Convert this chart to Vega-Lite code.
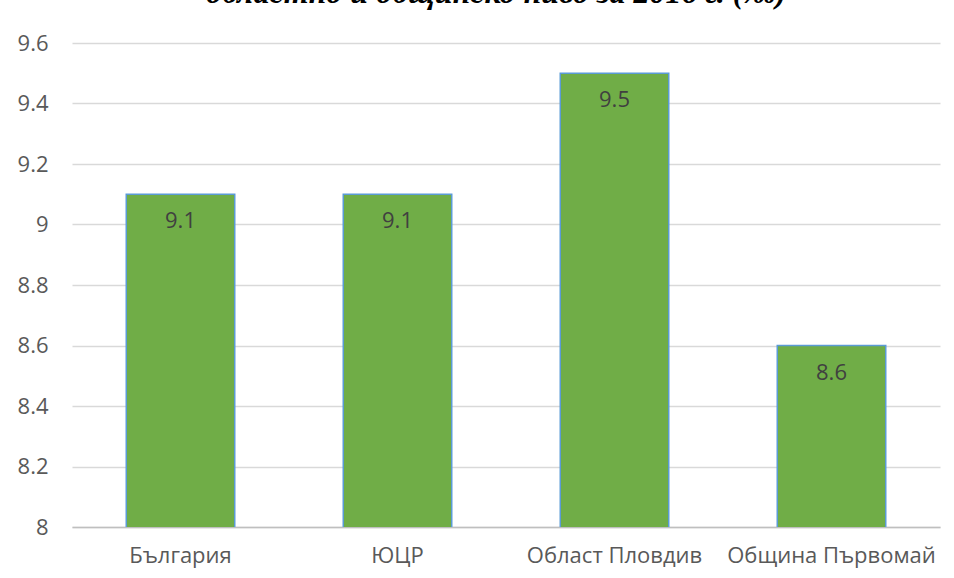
{
  "$schema": "https://vega.github.io/schema/vega-lite/v6.json",
  "width": 868,
  "height": 484,
  "autosize": {"type": "none"},
  "padding": {"left": 72, "top": 43, "right": 14, "bottom": 51},
  "background": "white",
  "title": {
    "text": "областно и общинско ниво за 2016 г. (‰)",
    "font": "Liberation Serif",
    "fontStyle": "italic",
    "fontWeight": "bold",
    "fontSize": 32,
    "color": "#000000",
    "anchor": "middle",
    "baseline": "alphabetic",
    "offset": 0,
    "dx": -10,
    "dy": 3
  },
  "config": {
    "view": {"stroke": null},
    "font": "Open Sans"
  },
  "data": {
    "values": [
      {"region": "България", "value": 9.1},
      {"region": "ЮЦР", "value": 9.1},
      {"region": "Област Пловдив", "value": 9.5},
      {"region": "Община Първомай", "value": 8.6}
    ]
  },
  "encoding": {
    "x": {
      "field": "region",
      "type": "nominal",
      "sort": null,
      "scale": {"paddingInner": 0.5, "paddingOuter": 0.25},
      "axis": {
        "title": null,
        "labelAngle": 0,
        "labelFont": "Open Sans",
        "labelFontSize": 22,
        "labelLimit": 400,
        "labelColor": "#595959",
        "labelPadding": 18,
        "ticks": false,
        "domainColor": "#BFBFBF",
        "domainWidth": 1.5,
        "grid": false
      }
    },
    "y": {
      "field": "value",
      "type": "quantitative",
      "scale": {"domain": [8, 9.6], "zero": false, "nice": false},
      "axis": {
        "title": null,
        "values": [8, 8.2, 8.4, 8.6, 8.8, 9, 9.2, 9.4, 9.6],
        "format": ".2~f",
        "labelFont": "Open Sans",
        "labelFontSize": 22,
        "labelColor": "#595959",
        "labelPadding": 24,
        "ticks": false,
        "domain": false,
        "grid": true,
        "gridColor": "#D9D9D9",
        "gridWidth": 1.3
      }
    }
  },
  "layer": [
    {
      "mark": {"type": "bar", "fill": "#70AD47", "stroke": "#5B9BD5", "strokeWidth": 1.5, "clip": true}
    },
    {
      "mark": {"type": "text", "baseline": "middle", "dy": 27, "font": "Open Sans", "fontSize": 22, "color": "#404040"},
      "encoding": {"text": {"field": "value", "type": "quantitative", "format": ".1f"}}
    }
  ]
}
